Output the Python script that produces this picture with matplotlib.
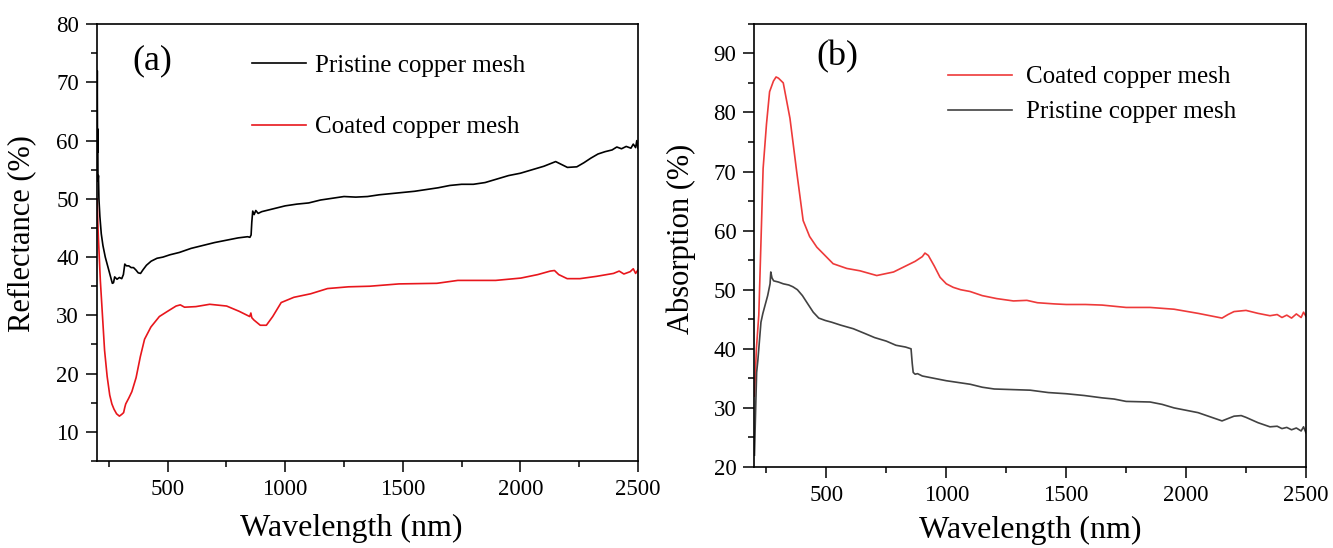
import matplotlib
matplotlib.use("Agg")
import matplotlib.pyplot as plt
from matplotlib.ticker import MultipleLocator

plt.rcParams['font.family'] = ['Liberation Serif', 'DejaVu Serif']

# (a) reflectance, pristine mesh
refl_pristine_wl = [200, 201, 202, 203, 204, 206, 208, 212, 218, 225, 235, 245, 255, 265, 270, 275, 285,
                    295, 305, 312, 318, 325, 335, 345, 355, 365, 375, 385, 395, 410, 430, 455, 480, 510,
                    550, 600, 650, 700, 750, 800, 840, 850, 855, 858, 862, 868, 875, 885, 900, 950, 1000,
                    1050, 1100, 1150, 1200, 1250, 1300, 1350, 1400, 1450, 1500, 1550, 1600, 1650, 1700,
                    1750, 1800, 1850, 1900, 1950, 2000, 2050, 2100, 2150, 2180, 2200, 2240, 2270, 2300,
                    2330, 2360, 2390, 2410, 2430, 2450, 2470, 2480, 2490, 2495, 2500]
refl_pristine = [64, 72, 58, 62, 53, 54, 50, 47, 44, 42, 40, 38.5, 37, 35.5, 35.6, 36.6, 36.2,
                 36.5, 36.3, 37, 38.8, 38.5, 38.5, 38.2, 38.2, 37.8, 37.3, 37.2, 37.8, 38.6, 39.3, 39.8, 40, 40.4,
                 40.8, 41.5, 42, 42.5, 42.9, 43.3, 43.5, 43.4, 43.8, 46, 47.9, 47.3, 48, 47.5, 47.8, 48.3, 48.8,
                 49.1, 49.3, 49.8, 50.1, 50.4, 50.3, 50.4, 50.7, 50.9, 51.1, 51.3, 51.6, 51.9, 52.3,
                 52.5, 52.5, 52.8, 53.4, 54, 54.4, 55, 55.6, 56.4, 55.8, 55.4, 55.5, 56.2, 57,
                 57.7, 58.1, 58.4, 58.9, 58.6, 59, 58.7, 59.4, 58.8, 60, 58.7]

# (a) reflectance, coated mesh
refl_coated_wl = [200, 205, 214, 223, 232, 243, 254, 263, 272, 283, 295, 305, 313, 318, 322, 335, 348,
                  366, 384, 402, 429, 465, 500, 536, 554, 572, 620, 679, 751, 804, 849, 854, 858, 867,
                  894, 920, 947, 983, 1037, 1108, 1180, 1269, 1359, 1484, 1645, 1734, 1895, 2002, 2074,
                  2127, 2145, 2163, 2199, 2253, 2324, 2396, 2420, 2440, 2467, 2480, 2490, 2500]
refl_coated = [50, 44, 36, 30, 24, 19.5, 16.3, 14.8, 13.9, 13.1, 12.7, 13, 13.3, 14.2, 14.8, 15.8, 16.9,
               19.3, 22.9, 25.9, 28, 29.8, 30.7, 31.6, 31.8, 31.4, 31.5, 31.9, 31.6, 30.7, 29.8, 30.4, 29.6, 29.2,
               28.3, 28.3, 29.8, 32.2, 33.1, 33.7, 34.6, 34.9, 35, 35.4, 35.5, 36, 36, 36.4, 37,
               37.6, 37.7, 37, 36.3, 36.3, 36.7, 37.2, 37.6, 37.1, 37.5, 38, 37.2, 37.8]

# (b) absorption, coated mesh
abs_coated_wl = [200, 208, 218, 227, 236, 250, 263, 279, 290, 300, 320, 348, 376, 403, 430, 460, 528, 585,
                 640, 710, 780, 835, 870, 900, 911, 925, 950, 974, 1000, 1029, 1060, 1099, 1150, 1210, 1280,
                 1336, 1380, 1450, 1500, 1580, 1650, 1700, 1750, 1850, 1950, 2050, 2100, 2150, 2175, 2200,
                 2250, 2300, 2350, 2380, 2400, 2420, 2440, 2460, 2480, 2490, 2500]
abs_coated = [32, 40, 45.7, 58, 70.5, 78, 83.5, 85.3, 86, 85.8, 85, 79, 70, 61.7, 59, 57.2, 54.4, 53.6,
              53.2, 52.4, 53, 54.1, 54.8, 55.6, 56.2, 55.8, 54, 52.1, 51, 50.4, 50, 49.7, 49, 48.5, 48.1,
              48.2, 47.8, 47.6, 47.5, 47.5, 47.4, 47.2, 47, 47, 46.7, 46, 45.6, 45.2, 45.8, 46.3,
              46.5, 46, 45.6, 45.8, 45.3, 45.7, 45.2, 45.9, 45.3, 46.2, 45.5]

# (b) absorption, pristine mesh
abs_pristine_wl = [200, 205, 209, 214, 220, 227, 235, 245, 255, 265, 268, 273, 280, 300, 320, 343, 360, 379,
                   400, 424, 445, 468, 495, 522, 560, 612, 660, 701, 750, 790, 830, 853, 858, 862, 870,
                   880, 900, 950, 1000, 1050, 1100, 1150, 1200, 1275, 1350, 1425, 1500, 1575, 1650,
                   1700, 1750, 1850, 1900, 1950, 2000, 2050, 2100, 2150, 2175, 2200, 2230, 2250, 2300,
                   2350, 2380, 2400, 2420, 2440, 2460, 2480, 2490, 2500]
abs_pristine = [22, 30, 36, 38, 41, 44.5, 46, 47.5, 49, 51, 53, 52, 51.5, 51.3, 51, 50.8, 50.5, 50,
                49, 47.5, 46.2, 45.2, 44.8, 44.5, 44, 43.4, 42.6, 41.9, 41.3, 40.6, 40.3, 40, 37.5, 36, 35.7,
                35.8, 35.4, 35, 34.6, 34.3, 34, 33.5, 33.2, 33.1, 33, 32.6, 32.4, 32.1, 31.7,
                31.5, 31.1, 31, 30.6, 30, 29.6, 29.2, 28.5, 27.8, 28.2, 28.6, 28.7, 28.4, 27.5,
                26.8, 26.9, 26.5, 26.7, 26.3, 26.6, 26.1, 26.8, 25.8]

wl_ticks = [500, 1000, 1500, 2000, 2500]

fig = plt.figure(figsize=(13.33, 5.48), dpi=100)
ax1 = fig.add_axes([0.0728, 0.1588, 0.4058, 0.7972])
ax2 = fig.add_axes([0.566, 0.1478, 0.4137, 0.8088])

ax1.plot(refl_pristine_wl, refl_pristine, color='black', lw=1.2, label='Pristine copper mesh')
ax1.plot(refl_coated_wl, refl_coated, color='#e8161c', lw=1.2, label='Coated copper mesh')
ax1.set_xlim(200, 2500)
ax1.set_ylim(5, 80)
ax1.set_yticks(range(10, 81, 10))
ax1.set_ylabel('Reflectance (%)', fontsize=22)
ax1.yaxis.set_label_coords(-0.112, 0.52)
ax1.text(0.102, 0.915, '(a)', transform=ax1.transAxes, fontsize=26, ha='center', va='center')
ax1.legend(loc='upper left', bbox_to_anchor=(0.2865, 0.93), frameon=False, fontsize=18,
           handlelength=2.15, handletextpad=0.38, labelspacing=1.55, borderpad=0, borderaxespad=0)

ax2.plot(abs_coated_wl, abs_coated, color='#ee3a3a', lw=1.2, label='Coated copper mesh')
ax2.plot(abs_pristine_wl, abs_pristine, color='#424242', lw=1.2, label='Pristine copper mesh')
ax2.set_xlim(200, 2500)
ax2.set_ylim(20, 95)
ax2.set_yticks(range(20, 91, 10))
ax2.set_ylabel('Absorption (%)', fontsize=22)
ax2.yaxis.set_label_coords(-0.106, 0.515)
ax2.text(0.151, 0.925, '(b)', transform=ax2.transAxes, fontsize=26, ha='center', va='center')
ax2.legend(loc='upper left', bbox_to_anchor=(0.351, 0.905), frameon=False, fontsize=18,
           handlelength=2.55, handletextpad=0.55, labelspacing=0.5, borderpad=0, borderaxespad=0)

for ax, xlab_x, xlab_y in ((ax1, 0.47, -0.121), (ax2, 0.5, -0.11)):
    ax.set_xticks(wl_ticks)
    ax.xaxis.set_minor_locator(MultipleLocator(250))
    ax.yaxis.set_minor_locator(MultipleLocator(5))
    ax.tick_params(which='both', direction='out', top=False, right=False, labelsize=16.5, width=1.1)
    ax.tick_params(which='major', length=8, pad=5)
    ax.tick_params(which='minor', length=4.5)
    ax.set_xlabel('Wavelength (nm)', fontsize=23)
    ax.xaxis.set_label_coords(xlab_x, xlab_y)
    for sp in ax.spines.values():
        sp.set_linewidth(1.2)

fig.savefig('out.png', dpi=100)
